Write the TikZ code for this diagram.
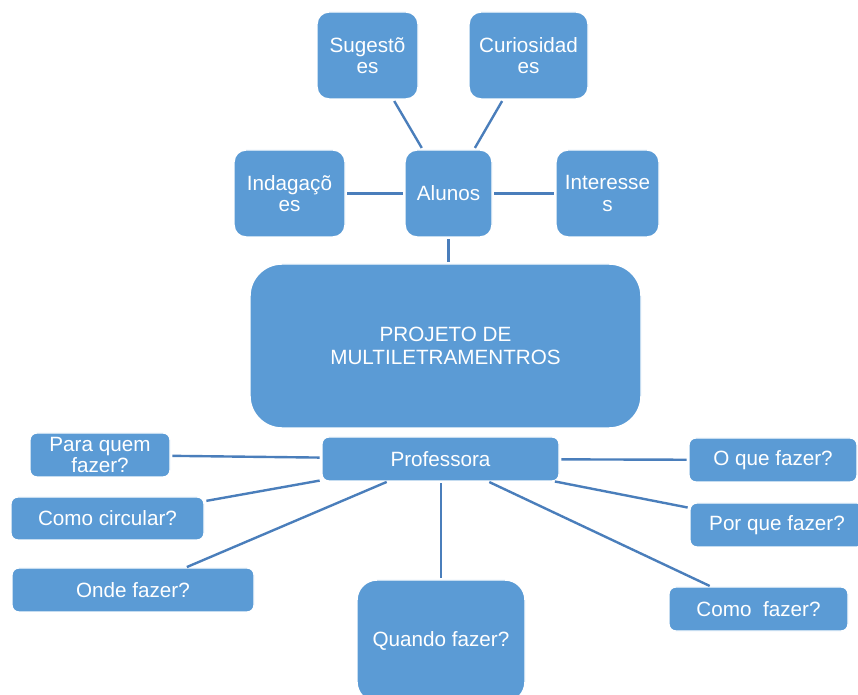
\documentclass[tikz,border=0pt]{standalone}
\usepackage{fontspec}
\setmainfont{Liberation Sans}
\definecolor{boxblue}{HTML}{5B9BD5}
\definecolor{linkblue}{HTML}{4A7EBB}
\begin{document}
\begin{tikzpicture}[x=0.75pt,y=-0.75pt,
  box/.style={draw=white, line width=1.1pt, fill=boxblue, text=white, align=center,
    inner sep=0pt, outer sep=0pt, font=\fontsize{15.5}{16}\selectfont},
  link/.style={draw=linkblue, line width=1.8pt, shorten <=1.8pt, shorten >=1.8pt}]
\useasboundingbox (0,0) rectangle (858,695);
\clip (0,0) rectangle (858,695);
% upper group
\node[box, rounded corners=9pt, minimum width=101*0.75pt, minimum height=87*0.75pt] (sug) at (367.5,55.5) {Sugestõ\\es};
\node[box, rounded corners=9pt, minimum width=119*0.75pt, minimum height=87*0.75pt] (cur) at (528.5,55.5) {Curiosidad\\es};
\node[box, rounded corners=9pt, minimum width=111*0.75pt, minimum height=87*0.75pt] (ind) at (289.5,193.5) {Indagaçõ\\es};
\node[box, rounded corners=9pt, minimum width=87*0.75pt, minimum height=87*0.75pt] (alu) at (448.5,193.5) {Alunos};
\node[box, rounded corners=9pt, minimum width=103*0.75pt, minimum height=87*0.75pt] (int) at (607.5,193.5) {Interesse\\s};
% central
\node[box, rounded corners=24pt, minimum width=391*0.75pt, minimum height=164*0.75pt, font=\fontsize{15.5}{17.5}\selectfont] (proj) at (445.5,346) {PROJETO DE\\MULTILETRAMENTROS};
% lower group
\node[box, rounded corners=5pt, minimum width=237*0.75pt, minimum height=44*0.75pt] (prof) at (440.5,459) {Professora};
\node[box, rounded corners=5pt, minimum width=140*0.75pt, minimum height=44*0.75pt] (para) at (100,455) {Para quem\\fazer?};
\node[box, rounded corners=5pt, minimum width=193*0.75pt, minimum height=43*0.75pt] (circ) at (107.5,518.5) {Como circular?};
\node[box, rounded corners=5pt, minimum width=242*0.75pt, minimum height=44*0.75pt] (onde) at (133,590) {Onde fazer?};
\node[box, rounded corners=15pt, minimum width=168*0.75pt, minimum height=122*0.75pt] (quando) at (441,641) {Quando fazer?};
\node[box, rounded corners=5pt, minimum width=168*0.75pt, minimum height=44*0.75pt] (oque) at (773,460) {O que fazer?};
\node[box, rounded corners=5pt, minimum width=174*0.75pt, minimum height=44*0.75pt] (porque) at (777,525) {Por que fazer?};
\node[box, rounded corners=5pt, minimum width=179*0.75pt, minimum height=44*0.75pt] (como) at (758.5,609) {Como\ \ fazer?};
% connectors
\draw[link] (sug) -- (alu);
\draw[link] (cur) -- (alu);
\draw[link] (ind) -- (alu);
\draw[link] (alu) -- (int);
\draw[link] (alu.south) -- (alu.south |- proj.north);
\draw[link] (prof) -- (para);
\draw[link] (prof) -- (circ);
\draw[link] (prof) -- (onde);
\draw[link] (prof.south -| quando.north) -- (quando.north);
\draw[link] (prof) -- (oque);
\draw[link] (prof) -- (porque);
\draw[link] (prof) -- (como);
\end{tikzpicture}
\end{document}
